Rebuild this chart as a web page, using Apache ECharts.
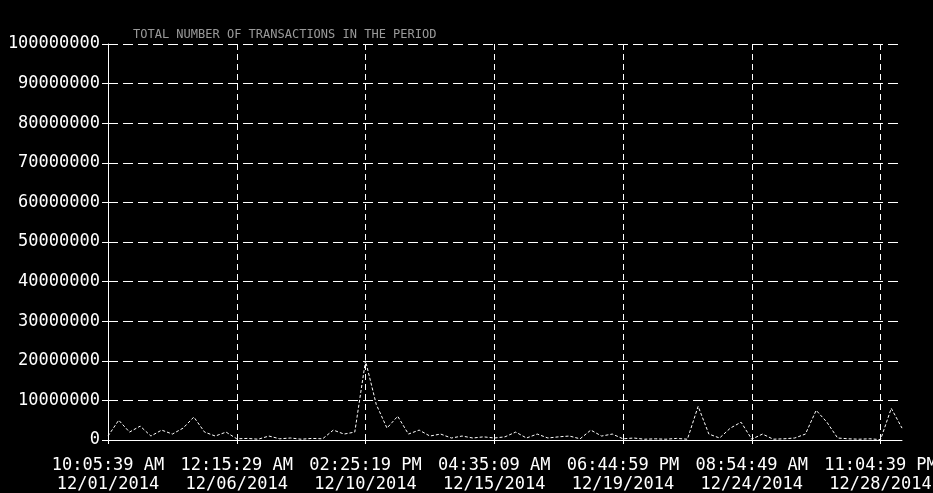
<!DOCTYPE html>
<html>
<head>
<meta charset="utf-8">
<script src="https://cdn.jsdelivr.net/npm/echarts@6/dist/echarts.min.js"></script>
<style>
  html, body { margin: 0; padding: 0; background: #000; }
  #chart { width: 933px; height: 493px; }
</style>
</head>
<body>
<div id="chart"></div>
<script>
// every 12th point carries a date/time label
var tickLabels = [
  '10:05:39 AM\n12/01/2014',
  '12:15:29 AM\n12/06/2014',
  '02:25:19 PM\n12/10/2014',
  '04:35:09 AM\n12/15/2014',
  '06:44:59 PM\n12/19/2014',
  '08:54:49 AM\n12/24/2014',
  '11:04:39 PM\n12/28/2014'
]
var pointsPerTick = 12

// transactions, in millions
var transactions = [
  1, 5, 2, 3.5, 1, 2.5, 1.5, 3, 5.8, 2, 1, 2,
  0.3, 0.4, 0.2, 1, 0.3, 0.5, 0.2, 0.4, 0.3, 2.5, 1.5, 2,
  20, 9, 3, 6, 1.5, 2.5, 1, 1.5, 0.5, 1, 0.5, 0.8,
  0.5, 0.8, 2, 0.5, 1.5, 0.5, 0.8, 1, 0.3, 2.5, 1, 1.5,
  0.3, 0.5, 0.2, 0.3, 0.2, 0.4, 0.2, 8.5, 1.5, 0.5, 3, 4.5,
  0.2, 1.5, 0.2, 0.3, 0.5, 1.5, 7.5, 4.5, 0.5, 0.3, 0.2, 0.3,
  0.1, 8, 3
]

var categories = transactions.map(function (v, i) {
  return i % pointsPerTick === 0 ? tickLabels[i / pointsPerTick] : ''
})

var chart = echarts.init(document.getElementById('chart'))
var mono = 'DejaVu Sans Mono'

var option = {
  backgroundColor: '#000',
  animation: false,
  title: {
    text: 'TOTAL NUMBER OF TRANSACTIONS IN THE PERIOD',
    left: 128,
    top: 24,
    textStyle: { color: '#9a9a9a', fontSize: 12, fontWeight: 'normal', fontFamily: mono }
  },
  grid: {
    left: 108,
    right: 31,
    top: 44,
    bottom: 53,
    containLabel: false,
    outerBoundsMode: 'none'
  },
  xAxis: {
    type: 'category',
    boundaryGap: false,
    data: categories,
    axisLine: { lineStyle: { color: '#fff', width: 1 } },
    axisTick: { show: true, interval: pointsPerTick - 1, length: 4, lineStyle: { color: '#fff' } },
    axisLabel: {
      interval: pointsPerTick - 1,
      color: '#fff',
      fontFamily: mono,
      fontSize: 17,
      lineHeight: 19,
      margin: 16,
      hideOverlap: false
    },
    splitLine: {
      show: true,
      interval: pointsPerTick - 1,
      lineStyle: { color: '#fff', type: [6, 4], width: 1 }
    }
  },
  yAxis: {
    type: 'value',
    min: 0,
    max: 100000000,
    interval: 10000000,
    axisLine: { show: true, lineStyle: { color: '#fff', width: 1 } },
    axisTick: { show: true, length: 6, lineStyle: { color: '#fff' } },
    axisLabel: {
      color: '#fff',
      fontFamily: mono,
      fontSize: 17,
      margin: 8,
      formatter: function (v) { return String(v) }
    },
    splitLine: {
      show: true,
      lineStyle: { color: '#fff', type: [10, 5], width: 1 }
    }
  },
  series: [{
    name: 'Transactions',
    type: 'line',
    symbol: 'none',
    lineStyle: { color: '#fff', width: 1, type: [3, 2] },
    data: transactions.map(function (v) { return v * 1000000 })
  }]
}

chart.setOption(option)
</script>
</body>
</html>
